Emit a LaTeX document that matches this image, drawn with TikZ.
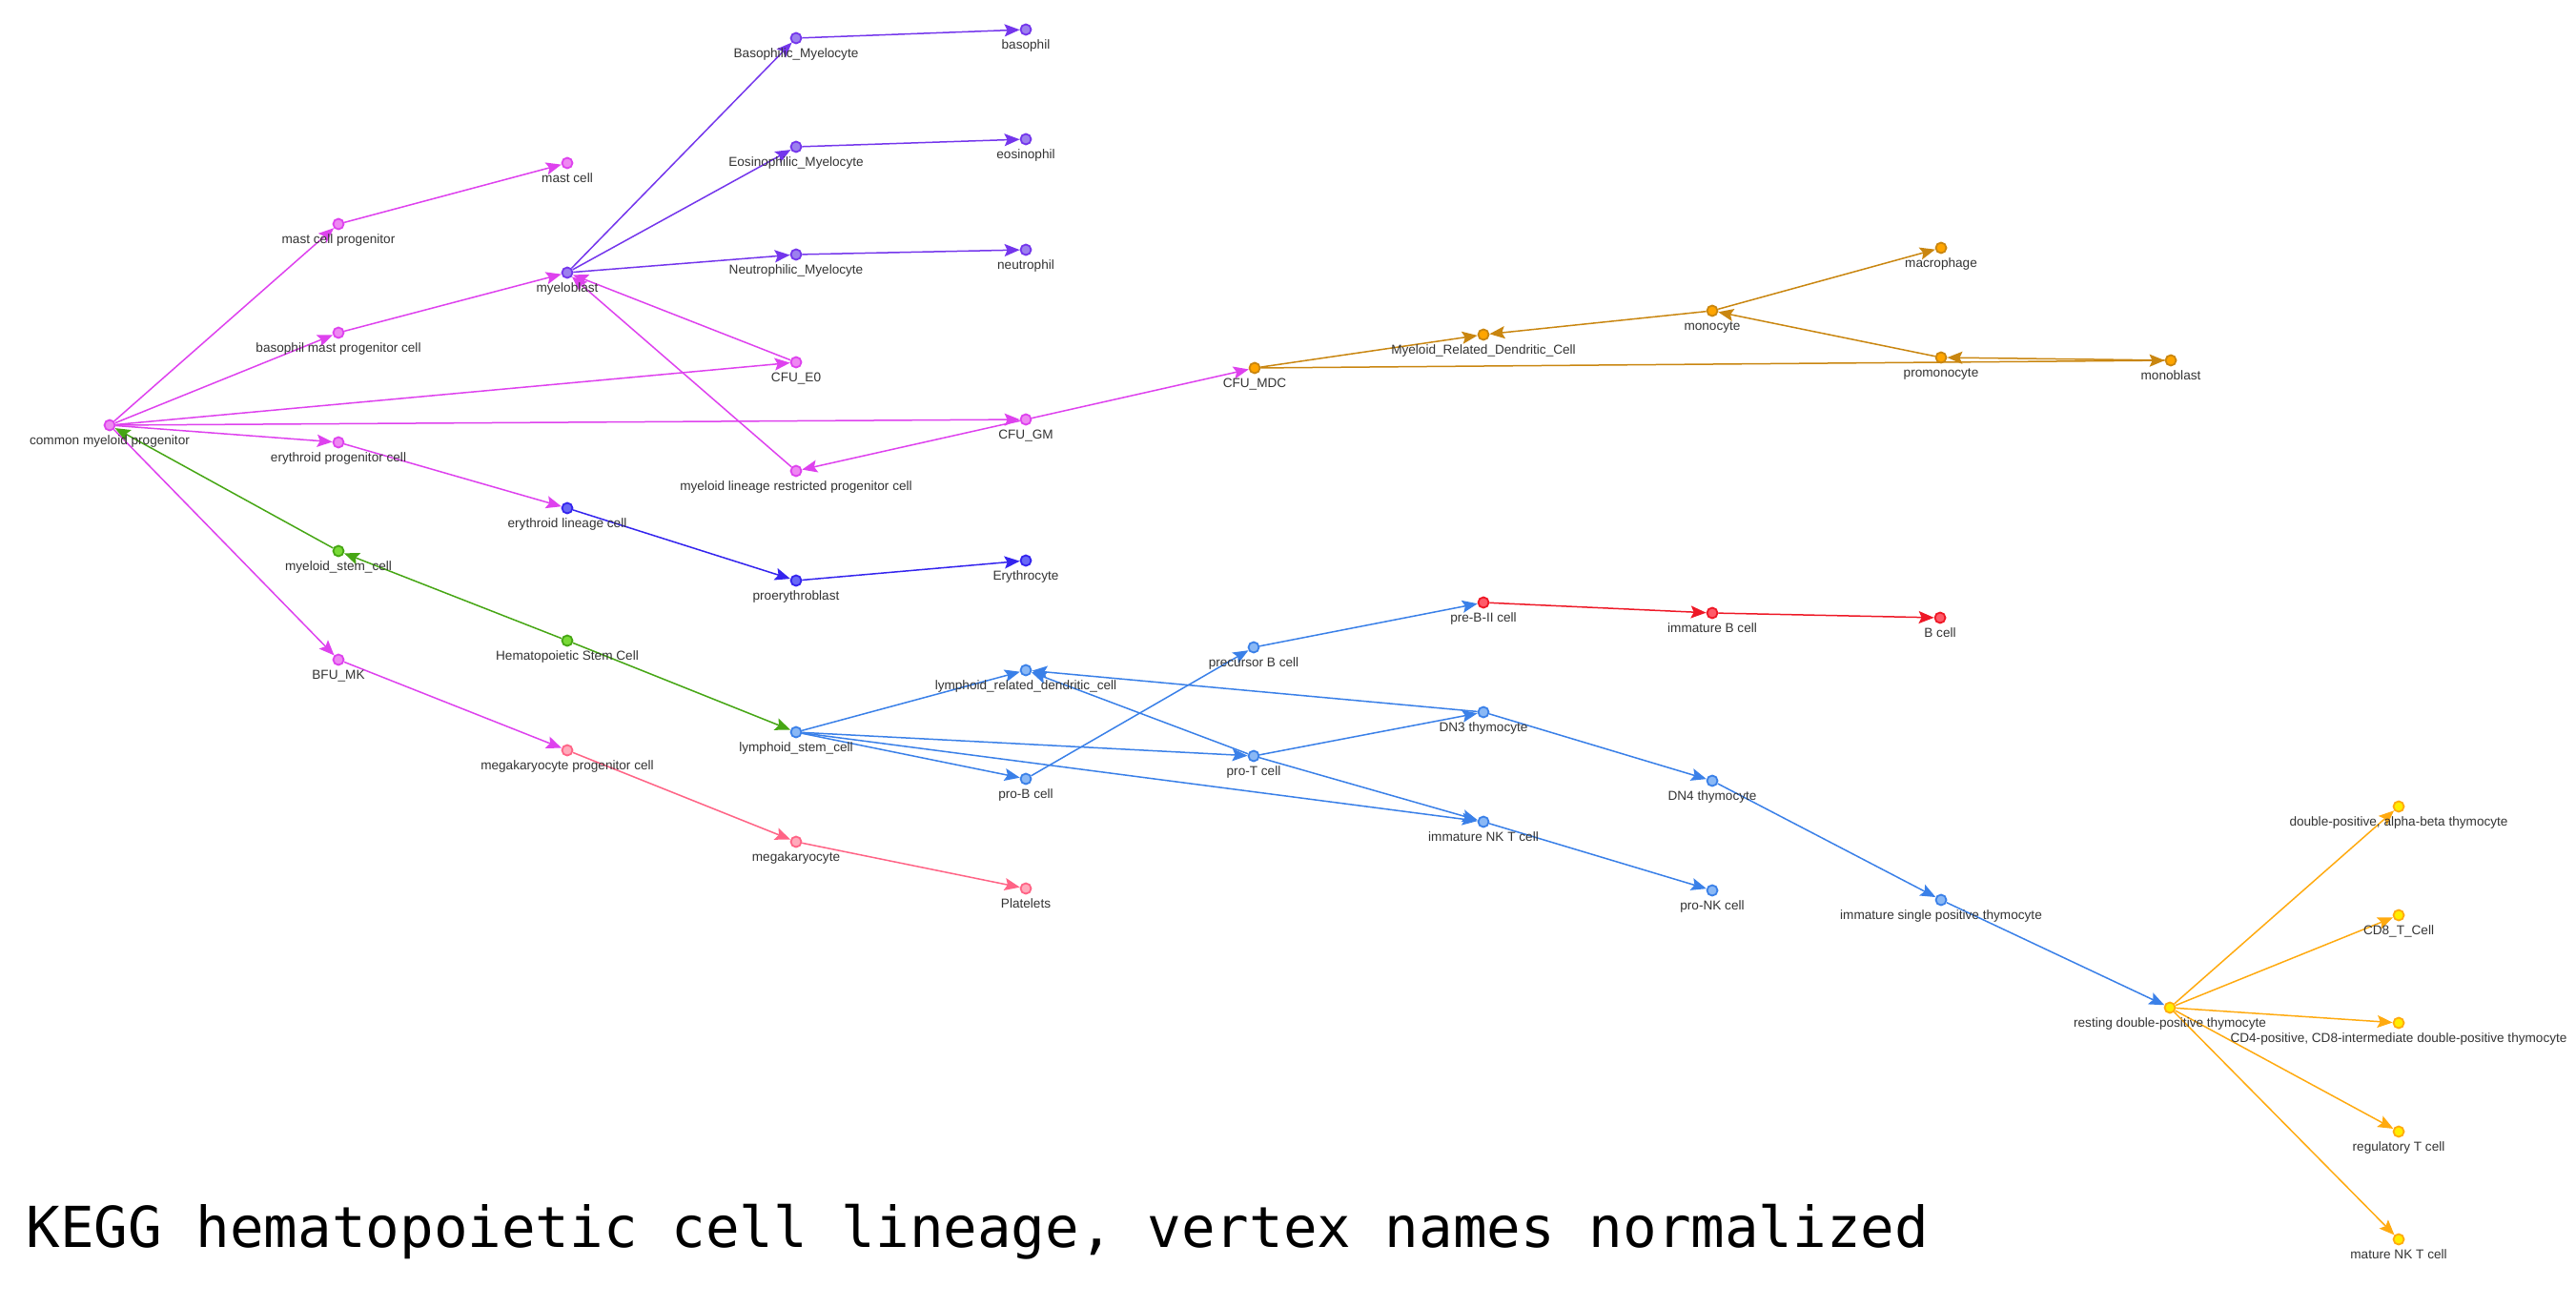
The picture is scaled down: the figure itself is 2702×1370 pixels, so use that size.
\documentclass[tikz,border=0pt]{standalone}
\usepackage{fontspec}
\setmainfont{Liberation Sans}
\newfontfamily\titlefont{DejaVu Sans Mono}
\usetikzlibrary{arrows.meta,backgrounds}

\definecolor{magdraw}{HTML}{DE42EE}
\definecolor{magfill}{HTML}{EE88F2}
\definecolor{vioddraw}{HTML}{7436EC}
\definecolor{viofill}{HTML}{9C80EE}
\definecolor{inddraw}{HTML}{3424EE}
\definecolor{indfill}{HTML}{6868F6}
\definecolor{grndraw}{HTML}{46A614}
\definecolor{grnfill}{HTML}{78DA36}
\definecolor{pnkdraw}{HTML}{FF6486}
\definecolor{pnkfill}{HTML}{FFAABB}
\definecolor{orgdraw}{HTML}{C98610}
\definecolor{orgfill}{HTML}{FFA500}
\definecolor{bludraw}{HTML}{3A80E8}
\definecolor{blufill}{HTML}{8AB8F5}
\definecolor{reddraw}{HTML}{EE1826}
\definecolor{redfill}{HTML}{FF5A68}
\definecolor{yeldraw}{HTML}{FFAA10}
\definecolor{yelfill}{HTML}{FFEE00}
\definecolor{tagtext}{HTML}{333333}

\tikzset{
  cell/.style={circle, minimum size=5.5pt, inner sep=0pt, line width=0.9pt},
  tag/.style={font=\fontsize{6.8}{8}\selectfont, text=tagtext, inner sep=0pt,
    text height=4.8pt, text depth=1.4pt},
  magcell/.style={cell, draw=magdraw, fill=magfill},
  viocell/.style={cell, draw=vioddraw, fill=viofill},
  indcell/.style={cell, draw=inddraw, fill=indfill},
  grncell/.style={cell, draw=grndraw, fill=grnfill},
  pnkcell/.style={cell, draw=pnkdraw, fill=pnkfill},
  orgcell/.style={cell, draw=orgdraw, fill=orgfill},
  blucell/.style={cell, draw=bludraw, fill=blufill},
  redcell/.style={cell, draw=reddraw, fill=redfill},
  yelcell/.style={cell, draw=yeldraw, fill=yelfill},
  link/.style={line width=0.75pt, -{Stealth[length=8pt, width=6.5pt, inset=1.5pt]}},
}

\begin{document}
\begin{tikzpicture}[x=0.5pt, y=-0.5pt, label distance=2.2pt]
\useasboundingbox (0,0) rectangle (2702,1370);

% myeloid branch
\node[magcell, label={[tag]below:common myeloid progenitor}] (cmp) at (115,446) {};
\node[magcell, label={[tag]below:mast cell progenitor}] (mcp) at (355,235) {};
\node[magcell, label={[tag]below:basophil mast progenitor cell}] (bmp) at (355,349) {};
\node[magcell, label={[tag]below:erythroid progenitor cell}] (epc) at (355,464) {};
\node[grncell, label={[tag]below:myeloid\_stem\_cell}] (msc) at (355,578) {};
\node[magcell, label={[tag]below:BFU\_MK}] (bfumk) at (355,692) {};
\node[magcell, label={[tag]below:mast cell}] (mast) at (595,171) {};
\node[viocell, label={[tag]below:myeloblast}] (myb) at (595,286) {};
\node[indcell, label={[tag]below:erythroid lineage cell}] (elc) at (595,533) {};
\node[grncell, label={[tag]below:Hematopoietic Stem Cell}] (hsc) at (595,672) {};
\node[pnkcell, label={[tag]below:megakaryocyte progenitor cell}] (mkp) at (595,787) {};
\node[viocell, label={[tag]below:Basophilic\_Myelocyte}] (basm) at (835,40) {};
\node[viocell, label={[tag]below:Eosinophilic\_Myelocyte}] (eosm) at (835,154) {};
\node[viocell, label={[tag]below:Neutrophilic\_Myelocyte}] (neum) at (835,267) {};
\node[magcell, label={[tag]below:CFU\_E0}] (cfue) at (835,380) {};
\node[magcell, label={[tag]below:myeloid lineage restricted progenitor cell}] (mlrp) at (835,494) {};
\node[indcell, label={[tag]below:proerythroblast}] (proe) at (835,609) {};
\node[blucell, label={[tag]below:lymphoid\_stem\_cell}] (lsc) at (835,768) {};
\node[pnkcell, label={[tag]below:megakaryocyte}] (mk) at (835,883) {};
\node[viocell, label={[tag]below:basophil}] (baso) at (1076,31) {};
\node[viocell, label={[tag]below:eosinophil}] (eosi) at (1076,146) {};
\node[viocell, label={[tag]below:neutrophil}] (neut) at (1076,262) {};
\node[magcell, label={[tag]below:CFU\_GM}] (cfugm) at (1076,440) {};
\node[indcell, label={[tag]below:Erythrocyte}] (ery) at (1076,588) {};
\node[pnkcell, label={[tag]below:Platelets}] (plat) at (1076,932) {};

% monocyte branch
\node[orgcell, label={[tag]below:CFU\_MDC}] (cfumdc) at (1316,386) {};
\node[orgcell, label={[tag]below:Myeloid\_Related\_Dendritic\_Cell}] (mrdc) at (1556,351) {};
\node[orgcell, label={[tag]below:monocyte}] (mono) at (1796,326) {};
\node[orgcell, label={[tag]below:macrophage}] (macro) at (2036,260) {};
\node[orgcell, label={[tag]below:promonocyte}] (promono) at (2036,375) {};
\node[orgcell, label={[tag]below:monoblast}] (monob) at (2277,378) {};

% lymphoid branch
\node[blucell, label={[tag]below:lymphoid\_related\_dendritic\_cell}] (lrdc) at (1076,703) {};
\node[blucell, label={[tag]below:pro-B cell}] (prob) at (1076,817) {};
\node[blucell, label={[tag]below:precursor B cell}] (precb) at (1315,679) {};
\node[blucell, label={[tag]below:pro-T cell}] (prot) at (1315,793) {};
\node[redcell, label={[tag]below:pre-B-II cell}] (preb2) at (1556,632) {};
\node[blucell, label={[tag]below:DN3 thymocyte}] (dn3) at (1556,747) {};
\node[blucell, label={[tag]below:immature NK T cell}] (nkt) at (1556,862) {};
\node[redcell, label={[tag]below:immature B cell}] (immb) at (1796,643) {};
\node[blucell, label={[tag]below:DN4 thymocyte}] (dn4) at (1796,819) {};
\node[blucell, label={[tag]below:pro-NK cell}] (pronk) at (1796,934) {};
\node[redcell, label={[tag]below:B cell}] (bcell) at (2035,648) {};
\node[blucell, label={[tag]below:immature single positive thymocyte}] (isp) at (2036,944) {};
\node[yelcell, label={[tag]below:resting double-positive thymocyte}] (rdp) at (2276,1057) {};
\node[yelcell, label={[tag]below:{double-positive, alpha-beta thymocyte}}] (dpab) at (2516,846) {};
\node[yelcell, label={[tag]below:CD8\_T\_Cell}] (cd8) at (2516,960) {};
\node[yelcell, label={[tag]below:{CD4-positive, CD8-intermediate double-positive thymocyte}}] (cdfour) at (2516,1073) {};
\node[yelcell, label={[tag]below:regulatory T cell}] (treg) at (2516,1187) {};
\node[yelcell, label={[tag]below:mature NK T cell}] (nkmat) at (2516,1300) {};

\begin{scope}[on background layer]
\foreach \a/\b in {cmp/mcp, mcp/mast, cmp/bmp, bmp/myb, cmp/cfue, cfue/myb, mlrp/myb,
    cmp/cfugm, cfugm/mlrp, cfugm/cfumdc, cmp/epc, epc/elc, cmp/bfumk, bfumk/mkp}
  \draw[link, magdraw] (\a) -- (\b);
\foreach \a/\b in {myb/basm, myb/eosm, myb/neum, basm/baso, eosm/eosi, neum/neut}
  \draw[link, vioddraw] (\a) -- (\b);
\foreach \a/\b in {elc/proe, proe/ery}
  \draw[link, inddraw] (\a) -- (\b);
\foreach \a/\b in {msc/cmp, hsc/msc, hsc/lsc}
  \draw[link, grndraw] (\a) -- (\b);
\foreach \a/\b in {mkp/mk, mk/plat}
  \draw[link, pnkdraw] (\a) -- (\b);
\foreach \a/\b in {cfumdc/mrdc, mono/mrdc, mono/macro, promono/mono, monob/promono, cfumdc/monob}
  \draw[link, orgdraw] (\a) -- (\b);
\foreach \a/\b in {lsc/lrdc, lsc/prot, lsc/prob, lsc/nkt, prob/precb, precb/preb2, prot/dn3,
    prot/lrdc, dn3/lrdc, prot/nkt, nkt/pronk, dn3/dn4, dn4/isp, isp/rdp}
  \draw[link, bludraw] (\a) -- (\b);
\foreach \a/\b in {preb2/immb, immb/bcell}
  \draw[link, reddraw] (\a) -- (\b);
\foreach \a/\b in {rdp/dpab, rdp/cd8, rdp/cdfour, rdp/treg, rdp/nkmat}
  \draw[link, yeldraw] (\a) -- (\b);
\end{scope}

\node[anchor=base west, inner sep=0pt, font=\fontsize{29.6}{35}\titlefont] (title) at (27,1308)
  {KEGG hematopoietic cell lineage, vertex names normalized};
\end{tikzpicture}
\end{document}
